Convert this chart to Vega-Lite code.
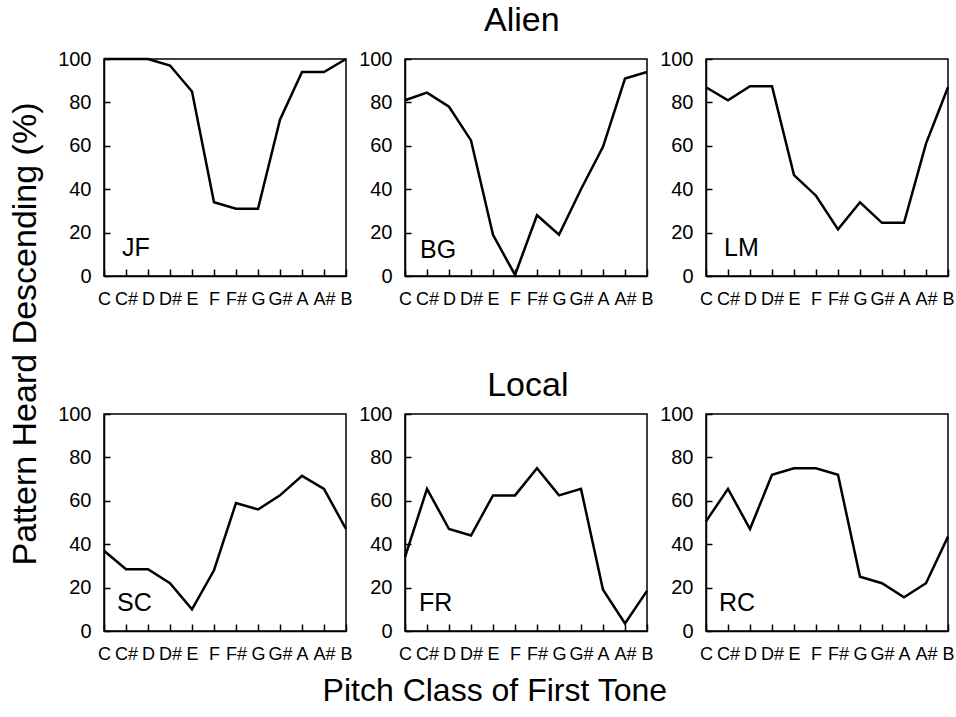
{
  "$schema": "https://vega.github.io/schema/vega-lite/v6.json",
  "background": "white",
  "padding": {"left": 8, "top": 4, "right": 0, "bottom": 0},
  "config": {
    "font": "Liberation Sans",
    "view": {"stroke": "black", "strokeWidth": 1.5},
    "axis": {"domainColor": "black", "tickColor": "black", "labelColor": "black", "grid": false, "domainWidth": 1.5, "tickWidth": 1.5, "labelFont": "Liberation Sans"},
    "axisX": {"labelAngle": 0, "tickSize": -7, "labelFontSize": 18, "labelPadding": 21},
    "axisY": {"tickSize": -6, "labelFontSize": 20, "labelPadding": 19},
    "title": {"font": "Liberation Sans", "fontWeight": "normal", "fontSize": 34, "color": "black", "anchor": "middle"},
    "text": {"font": "Liberation Sans", "fontSize": 25, "color": "black"}
  },
  "data": {"values": [
    {"subject": "JF", "pitch": "C", "pct": 100}, {"subject": "JF", "pitch": "C#", "pct": 100}, {"subject": "JF", "pitch": "D", "pct": 100}, {"subject": "JF", "pitch": "D#", "pct": 97}, {"subject": "JF", "pitch": "E", "pct": 85}, {"subject": "JF", "pitch": "F", "pct": 34}, {"subject": "JF", "pitch": "F#", "pct": 31}, {"subject": "JF", "pitch": "G", "pct": 31}, {"subject": "JF", "pitch": "G#", "pct": 72}, {"subject": "JF", "pitch": "A", "pct": 94}, {"subject": "JF", "pitch": "A#", "pct": 94}, {"subject": "JF", "pitch": "B", "pct": 100},
    {"subject": "BG", "pitch": "C", "pct": 81}, {"subject": "BG", "pitch": "C#", "pct": 84.5}, {"subject": "BG", "pitch": "D", "pct": 78}, {"subject": "BG", "pitch": "D#", "pct": 62.5}, {"subject": "BG", "pitch": "E", "pct": 19}, {"subject": "BG", "pitch": "F", "pct": 0.5}, {"subject": "BG", "pitch": "F#", "pct": 28}, {"subject": "BG", "pitch": "G", "pct": 19}, {"subject": "BG", "pitch": "G#", "pct": 40}, {"subject": "BG", "pitch": "A", "pct": 59.5}, {"subject": "BG", "pitch": "A#", "pct": 91}, {"subject": "BG", "pitch": "B", "pct": 94},
    {"subject": "LM", "pitch": "C", "pct": 87}, {"subject": "LM", "pitch": "C#", "pct": 81}, {"subject": "LM", "pitch": "D", "pct": 87.5}, {"subject": "LM", "pitch": "D#", "pct": 87.5}, {"subject": "LM", "pitch": "E", "pct": 46.5}, {"subject": "LM", "pitch": "F", "pct": 37}, {"subject": "LM", "pitch": "F#", "pct": 21.5}, {"subject": "LM", "pitch": "G", "pct": 34}, {"subject": "LM", "pitch": "G#", "pct": 24.5}, {"subject": "LM", "pitch": "A", "pct": 24.5}, {"subject": "LM", "pitch": "A#", "pct": 61}, {"subject": "LM", "pitch": "B", "pct": 87},
    {"subject": "SC", "pitch": "C", "pct": 37}, {"subject": "SC", "pitch": "C#", "pct": 28.5}, {"subject": "SC", "pitch": "D", "pct": 28.5}, {"subject": "SC", "pitch": "D#", "pct": 22}, {"subject": "SC", "pitch": "E", "pct": 10}, {"subject": "SC", "pitch": "F", "pct": 28}, {"subject": "SC", "pitch": "F#", "pct": 59}, {"subject": "SC", "pitch": "G", "pct": 56}, {"subject": "SC", "pitch": "G#", "pct": 62.5}, {"subject": "SC", "pitch": "A", "pct": 71.5}, {"subject": "SC", "pitch": "A#", "pct": 65.5}, {"subject": "SC", "pitch": "B", "pct": 47},
    {"subject": "FR", "pitch": "C", "pct": 34}, {"subject": "FR", "pitch": "C#", "pct": 65.5}, {"subject": "FR", "pitch": "D", "pct": 47}, {"subject": "FR", "pitch": "D#", "pct": 44}, {"subject": "FR", "pitch": "E", "pct": 62.5}, {"subject": "FR", "pitch": "F", "pct": 62.5}, {"subject": "FR", "pitch": "F#", "pct": 75}, {"subject": "FR", "pitch": "G", "pct": 62.5}, {"subject": "FR", "pitch": "G#", "pct": 65.5}, {"subject": "FR", "pitch": "A", "pct": 19}, {"subject": "FR", "pitch": "A#", "pct": 3.5}, {"subject": "FR", "pitch": "B", "pct": 18.5},
    {"subject": "RC", "pitch": "C", "pct": 50.5}, {"subject": "RC", "pitch": "C#", "pct": 65.5}, {"subject": "RC", "pitch": "D", "pct": 47}, {"subject": "RC", "pitch": "D#", "pct": 72}, {"subject": "RC", "pitch": "E", "pct": 75}, {"subject": "RC", "pitch": "F", "pct": 75}, {"subject": "RC", "pitch": "F#", "pct": 72}, {"subject": "RC", "pitch": "G", "pct": 25}, {"subject": "RC", "pitch": "G#", "pct": 22}, {"subject": "RC", "pitch": "A", "pct": 15.5}, {"subject": "RC", "pitch": "A#", "pct": 22}, {"subject": "RC", "pitch": "B", "pct": 43.5}
  ]},
  "title": {"text": "Pitch Class of First Tone", "orient": "bottom", "offset": 12, "fontSize": 32, "dx": 13},
  "vconcat": [
    {
      "title": {"text": "Pattern Heard Descending (%)", "orient": "left", "offset": 14},
      "spacing": 60,
      "vconcat": [
        {
          "title": {"text": "Alien", "offset": 10, "dx": 16},
          "spacing": 59,
          "bounds": "flush",
          "hconcat": [
            {"width": 242, "height": 217, "layer": [
              {"transform": [{"filter": "datum.subject === 'JF'"}], "mark": {"type": "line", "color": "black", "strokeWidth": 2.5},
               "encoding": {"x": {"field": "pitch", "type": "ordinal", "scale": {"type": "point", "domain": ["C","C#","D","D#","E","F","F#","G","G#","A","A#","B"], "padding": 0}, "axis": {"title": null}},
                            "y": {"field": "pct", "type": "quantitative", "scale": {"domain": [0, 100]}, "axis": {"title": null, "values": [0,10,20,30,40,50,60,70,80,90,100], "labelExpr": "datum.value % 20 === 0 ? datum.label : ''"}}}},
              {"data": {"values": [{"label": "JF"}]}, "mark": {"type": "text", "align": "left", "baseline": "alphabetic", "dx": 18},
               "encoding": {"x": {"datum": "C", "type": "ordinal"}, "y": {"datum": 9, "type": "quantitative"}, "text": {"field": "label"}}}
            ]},
            {"width": 242, "height": 217, "layer": [
              {"transform": [{"filter": "datum.subject === 'BG'"}], "mark": {"type": "line", "color": "black", "strokeWidth": 2.5},
               "encoding": {"x": {"field": "pitch", "type": "ordinal", "scale": {"type": "point", "domain": ["C","C#","D","D#","E","F","F#","G","G#","A","A#","B"], "padding": 0}, "axis": {"title": null}},
                            "y": {"field": "pct", "type": "quantitative", "scale": {"domain": [0, 100]}, "axis": {"title": null, "values": [0,10,20,30,40,50,60,70,80,90,100], "labelExpr": "datum.value % 20 === 0 ? datum.label : ''"}}}},
              {"data": {"values": [{"label": "BG"}]}, "mark": {"type": "text", "align": "left", "baseline": "alphabetic", "dx": 15},
               "encoding": {"x": {"datum": "C", "type": "ordinal"}, "y": {"datum": 8.5, "type": "quantitative"}, "text": {"field": "label"}}}
            ]},
            {"width": 242, "height": 217, "layer": [
              {"transform": [{"filter": "datum.subject === 'LM'"}], "mark": {"type": "line", "color": "black", "strokeWidth": 2.5},
               "encoding": {"x": {"field": "pitch", "type": "ordinal", "scale": {"type": "point", "domain": ["C","C#","D","D#","E","F","F#","G","G#","A","A#","B"], "padding": 0}, "axis": {"title": null}},
                            "y": {"field": "pct", "type": "quantitative", "scale": {"domain": [0, 100]}, "axis": {"title": null, "values": [0,10,20,30,40,50,60,70,80,90,100], "labelExpr": "datum.value % 20 === 0 ? datum.label : ''"}}}},
              {"data": {"values": [{"label": "LM"}]}, "mark": {"type": "text", "align": "left", "baseline": "alphabetic", "dx": 18},
               "encoding": {"x": {"datum": "C", "type": "ordinal"}, "y": {"datum": 9, "type": "quantitative"}, "text": {"field": "label"}}}
            ]}
          ]
        },
        {
          "title": {"text": "Local", "offset": 0, "dx": 22},
          "spacing": 59,
          "bounds": "flush",
          "hconcat": [
            {"width": 242, "height": 217, "layer": [
              {"transform": [{"filter": "datum.subject === 'SC'"}], "mark": {"type": "line", "color": "black", "strokeWidth": 2.5},
               "encoding": {"x": {"field": "pitch", "type": "ordinal", "scale": {"type": "point", "domain": ["C","C#","D","D#","E","F","F#","G","G#","A","A#","B"], "padding": 0}, "axis": {"title": null}},
                            "y": {"field": "pct", "type": "quantitative", "scale": {"domain": [0, 100]}, "axis": {"title": null, "values": [0,10,20,30,40,50,60,70,80,90,100], "labelExpr": "datum.value % 20 === 0 ? datum.label : ''"}}}},
              {"data": {"values": [{"label": "SC"}]}, "mark": {"type": "text", "align": "left", "baseline": "alphabetic", "dx": 13},
               "encoding": {"x": {"datum": "C", "type": "ordinal"}, "y": {"datum": 9, "type": "quantitative"}, "text": {"field": "label"}}}
            ]},
            {"width": 242, "height": 217, "layer": [
              {"transform": [{"filter": "datum.subject === 'FR'"}], "mark": {"type": "line", "color": "black", "strokeWidth": 2.5},
               "encoding": {"x": {"field": "pitch", "type": "ordinal", "scale": {"type": "point", "domain": ["C","C#","D","D#","E","F","F#","G","G#","A","A#","B"], "padding": 0}, "axis": {"title": null}},
                            "y": {"field": "pct", "type": "quantitative", "scale": {"domain": [0, 100]}, "axis": {"title": null, "values": [0,10,20,30,40,50,60,70,80,90,100], "labelExpr": "datum.value % 20 === 0 ? datum.label : ''"}}}},
              {"data": {"values": [{"label": "FR"}]}, "mark": {"type": "text", "align": "left", "baseline": "alphabetic", "dx": 14},
               "encoding": {"x": {"datum": "C", "type": "ordinal"}, "y": {"datum": 9, "type": "quantitative"}, "text": {"field": "label"}}}
            ]},
            {"width": 242, "height": 217, "layer": [
              {"transform": [{"filter": "datum.subject === 'RC'"}], "mark": {"type": "line", "color": "black", "strokeWidth": 2.5},
               "encoding": {"x": {"field": "pitch", "type": "ordinal", "scale": {"type": "point", "domain": ["C","C#","D","D#","E","F","F#","G","G#","A","A#","B"], "padding": 0}, "axis": {"title": null}},
                            "y": {"field": "pct", "type": "quantitative", "scale": {"domain": [0, 100]}, "axis": {"title": null, "values": [0,10,20,30,40,50,60,70,80,90,100], "labelExpr": "datum.value % 20 === 0 ? datum.label : ''"}}}},
              {"data": {"values": [{"label": "RC"}]}, "mark": {"type": "text", "align": "left", "baseline": "alphabetic", "dx": 13},
               "encoding": {"x": {"datum": "C", "type": "ordinal"}, "y": {"datum": 9, "type": "quantitative"}, "text": {"field": "label"}}}
            ]}
          ]
        }
      ]
    }
  ]
}
